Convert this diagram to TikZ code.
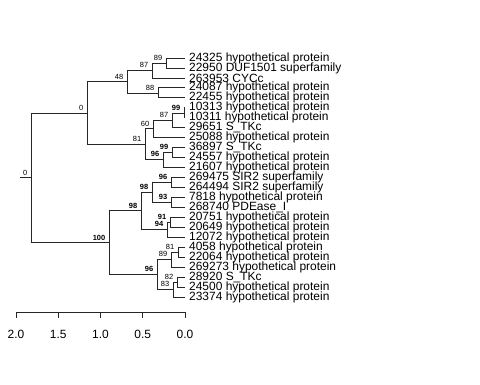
\documentclass[tikz,border=0pt]{standalone}
\usepackage{fontspec}
\setmainfont{Liberation Sans}
\usetikzlibrary{positioning,calc}

\tikzset{
  branch/.style={draw=black!85, line width=0.8bp},
  leaf/.style={anchor=west, inner xsep=4bp, inner ysep=0pt, font=\fontsize{12}{12}\selectfont},
  bs/.style={inner sep=0.5bp, font=\fontsize{7.5}{8}\selectfont},
  bsb/.style={inner sep=0.5bp, font=\fontsize{7.5}{8}\selectfont\bfseries},
  ticklab/.style={anchor=base, inner sep=0pt, font=\fontsize{12}{12}\selectfont},
}

\begin{document}
\begin{tikzpicture}[x=1bp, y=-1bp]
	\useasboundingbox (0,0) rectangle (480,384);

	% leaves
	\foreach \lab [count=\i] in {24325 hypothetical protein, 22950 DUF1501 superfamily,
		263953 CYCc, 24087 hypothetical protein, 22455 hypothetical protein,
		10313 hypothetical protein, 10311 hypothetical protein, 29651 S\_TKc,
		25088 hypothetical protein, 36897 S\_TKc, 24557 hypothetical protein,
		21607 hypothetical protein, 269475 SIR2 superfamily, 264494 SIR2 superfamily,
		7818 hypothetical protein, 268740 PDEase\_I, 20751 hypothetical protein,
		20649 hypothetical protein, 12072 hypothetical protein, 4058 hypothetical protein,
		22064 hypothetical protein, 269273 hypothetical protein, 28920 S\_TKc,
		24500 hypothetical protein, 23374 hypothetical protein}
		\node[leaf] (l\i) at (185, {58+9.96*(\i-1)}) {\lab};

	% internal nodes
	\coordinate (n89) at (166,63);
	\coordinate (n87a) at (152,70.5);
	\coordinate (n88) at (158,93);
	\coordinate (n48) at (127,81.8);
	\coordinate (n99a) at (184,113);
	\coordinate (n87b) at (172,120.5);
	\coordinate (n60) at (153,128.8);
	\coordinate (n99b) at (172,152);
	\coordinate (n96a) at (163,159.5);
	\coordinate (n81a) at (145,144.1);
	\coordinate (n0) at (87,112.9);
	\coordinate (n96b) at (171,182);
	\coordinate (n93) at (171,202);
	\coordinate (n98a) at (152,192);
	\coordinate (n91) at (170,222);
	\coordinate (n94) at (167,229.5);
	\coordinate (n98b) at (141,210.8);
	\coordinate (n81b) at (178,252);
	\coordinate (n89b) at (171,259.5);
	\coordinate (n82) at (177,282);
	\coordinate (n83) at (173,289.5);
	\coordinate (n96c) at (157,274.5);
	\coordinate (n100) at (109,242.6);
	\coordinate (root) at (31,177.8);
	\coordinate (stub) at (20,177.8);

	% branches
	\foreach \p/\c in {n89/l1.west, n89/l2.west, n87a/n89, n87a/l3.west,
		n88/l4.west, n88/l5.west, n48/n87a, n48/n88,
		n99a/l6.west, n99a/l7.west, n87b/n99a, n87b/l8.west, n60/n87b, n60/l9.west,
		n99b/l10.west, n99b/l11.west, n96a/n99b, n96a/l12.west,
		n81a/n60, n81a/n96a, n0/n48, n0/n81a,
		n96b/l13.west, n96b/l14.west, n93/l15.west, n93/l16.west, n98a/n96b, n98a/n93,
		n91/l17.west, n91/l18.west, n94/n91, n94/l19.west, n98b/n98a, n98b/n94,
		n81b/l20.west, n81b/l21.west, n89b/n81b, n89b/l22.west,
		n82/l23.west, n82/l24.west, n83/n82, n83/l25.west, n96c/n89b, n96c/n83,
		n100/n98b, n100/n96c, root/n0, root/n100}
		\draw[branch] (\p) |- (\c);
	\draw[branch] (stub) -- (root);

	% support values
	\node[bs, above left=1.8bp and 3bp of n89] (b89) {89};
	\node[bs, above left=1.8bp and 3bp of n87a] (b87a) {87};
	\node[bs, above left=1.8bp and 3bp of n88] (b88) {88};
	\node[bs, above left=1.8bp and 3bp of n48] (b48) {48};
	\node[bsb, above left=1.8bp and 3bp of n99a] (b99a) {99};
	\node[bs, above left=1.8bp and 3bp of n87b] (b87b) {87};
	\node[bs, above left=1.8bp and 3bp of n60] (b60) {60};
	\node[bsb, above left=1.8bp and 3bp of n99b] (b99b) {99};
	\node[bsb, above left=1.8bp and 3bp of n96a] (b96a) {96};
	\node[bs, above left=1.8bp and 3bp of n81a] (b81a) {81};
	\node[bs, above left=1.8bp and 3bp of n0] (b0) {0};
	\node[bsb, above left=1.8bp and 3bp of n96b] (b96b) {96};
	\node[bsb, above left=1.8bp and 3bp of n93] (b93) {93};
	\node[bsb, above left=1.8bp and 3bp of n98a] (b98a) {98};
	\node[bsb, above left=1.8bp and 3bp of n91] (b91) {91};
	\node[bsb, above left=1.8bp and 3bp of n94] (b94) {94};
	\node[bsb, above left=1.8bp and 3bp of n98b] (b98b) {98};
	\node[bs, above left=1.8bp and 3bp of n81b] (b81b) {81};
	\node[bs, above left=1.8bp and 3bp of n89b] (b89b) {89};
	\node[bs, above left=1.8bp and 3bp of n82] (b82) {82};
	\node[bs, above left=1.8bp and 3bp of n83] (b83) {83};
	\node[bsb, above left=1.8bp and 3bp of n96c] (b96c) {96};
	\node[bsb, above left=1.8bp and 3bp of n100] (b100) {100};
	\node[bs, above left=1.8bp and 3bp of root] (broot) {0};

	% scale axis
	\draw[branch] (16,312) -- (185,312);
	\foreach \v/\x in {2.0/16, 1.5/58.25, 1.0/100.5, 0.5/142.75, 0.0/185} {
		\draw[branch] (\x,312) -- (\x,318);
		\node[ticklab] (t\x) at (\x,338.3) {\v};
	}
\end{tikzpicture}
\end{document}
